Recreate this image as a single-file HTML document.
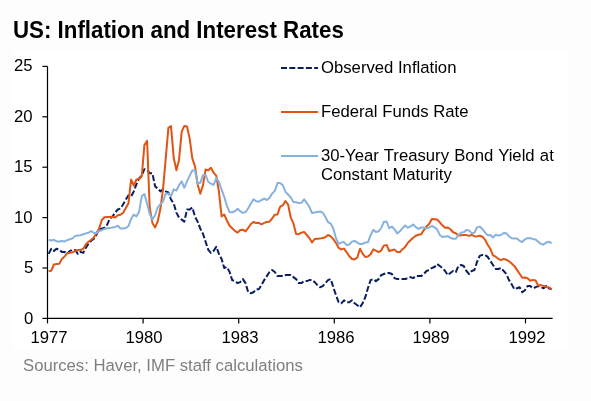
<!DOCTYPE html>
<html><head><meta charset="utf-8"><style>
html,body{margin:0;padding:0;}
body{width:591px;height:401px;background:#fdfdfd;position:relative;overflow:hidden;font-family:"Liberation Sans",sans-serif;}
.t{position:absolute;white-space:nowrap;line-height:1;color:#000;-webkit-font-smoothing:antialiased;will-change:transform;}
</style></head><body>
<div style="position:absolute;left:12px;top:50px;width:555px;height:299px;background:#fff"></div>
<div class="t" style="left:12.8px;top:18.6px;font-size:22.3px;font-weight:bold;transform:scaleY(1.04);transform-origin:0 0;">US: Inflation and Interest Rates</div>
<svg width="591" height="401" style="position:absolute;left:0;top:0">
<g stroke="#000" stroke-width="1.2" fill="none" shape-rendering="auto">
<path d="M47.5,66.4 V318.4 H552.6"/>
<path d="M42.4,318.4 H47.5"/>
<path d="M42.4,268.0 H47.5"/>
<path d="M42.4,217.6 H47.5"/>
<path d="M42.4,167.2 H47.5"/>
<path d="M42.4,116.8 H47.5"/>
<path d="M42.4,66.4 H47.5"/>
<path d="M47.5,318.4 V323.4"/>
<path d="M143.1,318.4 V323.4"/>
<path d="M238.7,318.4 V323.4"/>
<path d="M334.3,318.4 V323.4"/>
<path d="M429.9,318.4 V323.4"/>
<path d="M525.5,318.4 V323.4"/>
</g>
<path d="M48.6,253.9 L51.3,248.8 L53.9,250.9 L56.6,248.8 L59.3,249.9 L61.9,251.9 L64.6,251.9 L67.2,253.9 L69.9,250.9 L72.6,249.9 L75.2,249.9 L77.9,253.9 L80.6,251.9 L83.2,252.9 L85.9,247.8 L88.5,243.8 L91.2,240.8 L93.9,238.8 L96.5,234.7 L99.2,228.7 L101.8,228.7 L104.5,227.7 L107.2,224.7 L109.8,218.6 L112.5,216.6 L115.1,212.6 L117.8,209.5 L120.5,208.5 L123.1,204.5 L125.8,199.5 L128.5,195.4 L131.1,196.4 L133.8,191.4 L136.4,184.3 L139.1,178.3 L141.8,175.3 L144.4,169.2 L147.1,170.2 L149.7,173.2 L152.4,173.2 L155.1,186.4 L157.7,188.4 L160.4,191.4 L163.0,189.4 L165.7,191.4 L168.4,192.4 L171.0,199.5 L173.7,203.5 L176.4,212.6 L179.0,217.6 L181.7,219.6 L184.3,221.6 L187.0,209.5 L189.7,209.5 L192.3,207.5 L195.0,216.6 L197.6,221.6 L200.3,228.7 L203.0,233.7 L205.6,241.8 L208.3,249.9 L210.9,252.9 L213.6,250.9 L216.3,246.8 L218.9,253.9 L221.6,258.9 L224.2,268.0 L226.9,267.0 L229.6,272.0 L232.2,280.1 L234.9,281.1 L237.6,283.1 L240.2,282.1 L242.9,279.1 L245.5,283.1 L248.2,292.2 L250.9,293.2 L253.5,292.2 L256.2,289.2 L258.8,289.2 L261.5,285.1 L264.2,280.1 L266.8,276.1 L269.5,272.0 L272.1,270.0 L274.8,272.0 L277.5,276.1 L280.1,276.1 L282.8,276.1 L285.5,275.1 L288.1,275.1 L290.8,275.1 L293.4,277.1 L296.1,279.1 L298.8,283.1 L301.4,283.1 L304.1,281.1 L306.7,281.1 L309.4,280.1 L312.1,280.1 L314.7,282.1 L317.4,285.1 L320.0,287.2 L322.7,286.1 L325.4,283.1 L328.0,280.1 L330.7,279.1 L333.3,287.2 L336.0,295.2 L338.7,302.3 L341.3,303.3 L344.0,300.3 L346.7,302.3 L349.3,302.3 L352.0,300.3 L354.6,303.3 L357.3,305.3 L360.0,307.3 L362.6,303.3 L365.3,297.2 L367.9,288.2 L370.6,280.1 L373.3,279.1 L375.9,281.1 L378.6,279.1 L381.2,275.1 L383.9,274.0 L386.6,273.0 L389.2,273.0 L391.9,274.0 L394.6,278.1 L397.2,279.1 L399.9,279.1 L402.5,279.1 L405.2,279.1 L407.9,278.1 L410.5,277.1 L413.2,278.1 L415.8,276.1 L418.5,276.1 L421.2,276.1 L423.8,274.0 L426.5,271.0 L429.1,270.0 L431.8,268.0 L434.5,267.0 L437.1,264.0 L439.8,266.0 L442.4,268.0 L445.1,271.0 L447.8,275.1 L450.4,273.0 L453.1,271.0 L455.8,272.0 L458.4,266.0 L461.1,265.0 L463.7,266.0 L466.4,271.0 L469.1,274.0 L471.7,271.0 L474.4,270.0 L477.0,262.0 L479.7,255.9 L482.4,254.9 L485.0,254.9 L487.7,256.9 L490.3,260.9 L493.0,265.0 L495.7,269.0 L498.3,269.0 L501.0,268.0 L503.7,271.0 L506.3,274.0 L509.0,280.1 L511.6,284.1 L514.3,289.2 L517.0,288.2 L519.6,287.2 L522.3,292.2 L524.9,290.2 L527.6,286.1 L530.3,286.1 L532.9,288.2 L535.6,287.2 L538.2,286.1 L540.9,287.2 L543.6,288.2 L546.2,286.1 L548.9,288.2 L551.6,289.2" fill="none" stroke="#0a1e60" stroke-width="2" stroke-dasharray="6,2.3" stroke-linejoin="round"/>
<path d="M48.6,271.1 L51.3,270.7 L53.9,264.5 L56.6,264.1 L59.3,263.8 L61.9,258.9 L64.6,256.5 L67.2,253.2 L69.9,252.8 L72.6,252.3 L75.2,250.9 L77.9,250.1 L80.6,250.0 L83.2,248.9 L85.9,244.2 L88.5,241.8 L91.2,239.7 L93.9,237.4 L96.5,233.2 L99.2,228.1 L101.8,220.0 L104.5,217.3 L107.2,216.9 L109.8,217.0 L112.5,216.7 L115.1,217.5 L117.8,215.2 L120.5,214.7 L123.1,212.9 L125.8,208.1 L128.5,203.2 L131.1,179.6 L133.8,185.5 L136.4,179.5 L139.1,179.1 L141.8,176.0 L144.4,145.1 L147.1,140.9 L149.7,207.7 L152.4,222.9 L155.1,227.4 L157.7,221.5 L160.4,208.8 L163.0,189.3 L165.7,158.6 L168.4,127.9 L171.0,126.1 L173.7,157.8 L176.4,170.2 L179.0,159.9 L181.7,131.7 L184.3,125.9 L187.0,126.5 L189.7,138.8 L192.3,158.4 L195.0,166.4 L197.6,184.2 L200.3,193.7 L203.0,185.1 L205.6,169.4 L208.3,170.4 L210.9,167.8 L213.6,172.7 L216.3,175.8 L218.9,191.5 L221.6,216.4 L224.2,214.5 L226.9,220.5 L229.6,225.7 L232.2,228.2 L234.9,230.9 L237.6,232.6 L240.2,230.0 L242.9,229.7 L245.5,231.4 L248.2,227.9 L250.9,224.0 L253.5,222.0 L256.2,223.1 L258.8,222.8 L261.5,224.3 L264.2,222.9 L266.8,222.0 L269.5,221.7 L272.1,218.5 L274.8,214.7 L277.5,214.4 L280.1,206.9 L282.8,205.2 L285.5,201.1 L288.1,204.5 L290.8,217.7 L293.4,223.3 L296.1,233.9 L298.8,234.2 L301.4,232.7 L304.1,231.9 L306.7,235.0 L309.4,238.1 L312.1,242.5 L314.7,239.0 L317.4,238.8 L320.0,238.6 L322.7,237.9 L325.4,237.3 L328.0,235.0 L330.7,236.3 L333.3,239.2 L336.0,243.0 L338.7,247.9 L341.3,249.4 L344.0,248.6 L346.7,252.3 L349.3,256.2 L352.0,259.0 L354.6,259.4 L357.3,257.5 L360.0,248.7 L362.6,253.6 L365.3,256.9 L367.9,256.6 L370.6,254.2 L373.3,249.4 L375.9,250.6 L378.6,252.1 L381.2,250.6 L383.9,245.6 L386.6,244.9 L389.2,251.0 L391.9,250.2 L394.6,249.6 L397.2,252.1 L399.9,252.1 L402.5,249.2 L405.2,246.9 L407.9,242.7 L410.5,240.3 L413.2,237.7 L415.8,235.8 L418.5,234.7 L421.2,234.2 L423.8,230.1 L426.5,226.5 L429.1,224.1 L431.8,219.1 L434.5,219.2 L437.1,219.5 L439.8,222.3 L442.4,225.3 L445.1,227.8 L447.8,227.5 L450.4,229.3 L453.1,232.2 L455.8,233.2 L458.4,235.4 L461.1,235.3 L463.7,234.9 L466.4,235.1 L469.1,235.9 L471.7,234.8 L474.4,236.2 L477.0,236.4 L479.7,235.7 L482.4,236.7 L485.0,239.7 L487.7,244.7 L490.3,248.7 L493.0,255.4 L495.7,256.7 L498.3,258.8 L501.0,260.1 L503.7,258.9 L506.3,259.7 L509.0,261.3 L511.6,263.5 L514.3,265.9 L517.0,269.9 L519.6,273.7 L522.3,277.8 L524.9,277.5 L527.6,278.3 L530.3,280.8 L532.9,279.9 L535.6,280.5 L538.2,285.6 L540.9,285.1 L543.6,285.9 L546.2,287.2 L548.9,287.3 L551.6,289.0" fill="none" stroke="#e05414" stroke-width="2" stroke-linejoin="round"/>
<path d="M48.6,239.8 L51.3,240.5 L53.9,239.8 L56.6,241.4 L59.3,241.4 L61.9,241.0 L64.6,241.4 L67.2,240.1 L69.9,239.3 L72.6,238.4 L75.2,235.9 L77.9,235.5 L80.6,235.2 L83.2,234.3 L85.9,233.4 L88.5,232.7 L91.2,231.2 L93.9,233.0 L96.5,233.0 L99.2,231.0 L101.8,230.2 L104.5,228.9 L107.2,228.3 L109.8,228.1 L112.5,227.4 L115.1,226.9 L117.8,225.8 L120.5,228.5 L123.1,228.5 L125.8,228.0 L128.5,226.0 L131.1,219.1 L133.8,214.6 L136.4,216.4 L139.1,211.6 L141.8,196.1 L144.4,194.0 L147.1,203.5 L149.7,214.0 L152.4,219.5 L155.1,215.2 L157.7,207.5 L160.4,204.1 L163.0,201.6 L165.7,193.7 L168.4,193.4 L171.0,196.0 L173.7,189.4 L176.4,190.5 L179.0,185.3 L181.7,181.3 L184.3,187.8 L187.0,181.4 L189.7,175.6 L192.3,170.5 L195.0,170.4 L197.6,183.8 L200.3,182.8 L203.0,175.1 L205.6,175.1 L208.3,182.0 L210.9,183.6 L213.6,184.9 L216.3,178.1 L218.9,181.8 L221.6,189.7 L224.2,196.7 L226.9,205.8 L229.6,212.2 L232.2,212.2 L234.9,211.2 L237.6,208.7 L240.2,211.2 L242.9,212.8 L245.5,212.3 L248.2,208.2 L250.9,203.5 L253.5,199.3 L256.2,201.2 L258.8,201.7 L261.5,200.0 L264.2,198.6 L266.8,200.0 L269.5,197.9 L272.1,193.6 L274.8,190.9 L277.5,183.0 L280.1,182.9 L282.8,185.2 L285.5,192.0 L288.1,194.5 L290.8,197.6 L293.4,201.9 L296.1,202.3 L298.8,203.0 L301.4,202.8 L304.1,199.4 L306.7,202.8 L309.4,207.0 L312.1,213.1 L314.7,212.6 L317.4,212.0 L320.0,211.5 L322.7,212.6 L325.4,217.0 L328.0,222.2 L330.7,223.6 L333.3,228.4 L336.0,238.2 L338.7,243.9 L341.3,242.6 L344.0,242.1 L346.7,245.1 L349.3,244.5 L352.0,241.6 L354.6,240.8 L357.3,242.6 L360.0,244.1 L362.6,243.9 L365.3,242.4 L367.9,242.3 L370.6,235.2 L373.3,229.9 L375.9,232.0 L378.6,231.3 L381.2,228.0 L383.9,221.7 L386.6,221.5 L389.2,228.2 L391.9,226.5 L394.6,229.4 L397.2,233.4 L399.9,231.4 L402.5,228.2 L405.2,225.4 L407.9,227.7 L410.5,226.3 L413.2,224.5 L415.8,227.1 L418.5,228.8 L421.2,227.5 L423.8,227.6 L426.5,228.4 L429.1,227.6 L431.8,226.0 L434.5,227.4 L437.1,229.4 L439.8,235.0 L442.4,237.0 L445.1,236.6 L447.8,236.2 L450.4,237.8 L453.1,238.8 L455.8,238.8 L458.4,235.1 L461.1,232.7 L463.7,232.1 L466.4,230.1 L469.1,230.4 L471.7,233.1 L474.4,232.7 L477.0,227.4 L479.7,226.6 L482.4,229.1 L485.0,232.3 L487.7,235.3 L490.3,235.0 L493.0,237.5 L495.7,234.8 L498.3,235.6 L501.0,235.0 L503.7,233.0 L506.3,233.2 L509.0,236.3 L511.6,238.3 L514.3,238.5 L517.0,238.6 L519.6,240.8 L522.3,242.0 L524.9,239.3 L527.6,238.1 L530.3,238.2 L532.9,238.9 L535.6,239.4 L538.2,241.8 L540.9,243.9 L543.6,244.4 L546.2,242.5 L548.9,241.7 L551.6,243.4" fill="none" stroke="#88b2de" stroke-width="2" stroke-linejoin="round"/>
<path d="M281,67.9 H318" stroke="#0a1e60" stroke-width="2" stroke-dasharray="6,2.3" fill="none"/>
<path d="M281,112 H318" stroke="#e05414" stroke-width="2" fill="none"/>
<path d="M281,156 H318" stroke="#88b2de" stroke-width="2" fill="none"/>
</svg>
<div class="t" style="right:558.0px;top:310.8px;font-size:16.7px;">0</div>
<div class="t" style="right:558.0px;top:260.4px;font-size:16.7px;">5</div>
<div class="t" style="right:558.0px;top:210.0px;font-size:16.7px;">10</div>
<div class="t" style="right:558.0px;top:159.0px;font-size:16.7px;">15</div>
<div class="t" style="right:558.0px;top:108.6px;font-size:16.7px;">20</div>
<div class="t" style="right:558.0px;top:58.2px;font-size:16.7px;">25</div>
<div class="t" style="left:-1.3px;width:100px;text-align:center;top:330.0px;font-size:16.7px;">1977</div>
<div class="t" style="left:94.3px;width:100px;text-align:center;top:330.0px;font-size:16.7px;">1980</div>
<div class="t" style="left:189.9px;width:100px;text-align:center;top:330.0px;font-size:16.7px;">1983</div>
<div class="t" style="left:285.5px;width:100px;text-align:center;top:330.0px;font-size:16.7px;">1986</div>
<div class="t" style="left:381.1px;width:100px;text-align:center;top:330.0px;font-size:16.7px;">1989</div>
<div class="t" style="left:476.7px;width:100px;text-align:center;top:330.0px;font-size:16.7px;">1992</div>
<div class="t" style="left:320.5px;top:59.6px;font-size:16.7px;">Observed Inflation</div>
<div class="t" style="left:320.5px;top:103.6px;font-size:16.7px;">Federal Funds Rate</div>
<div class="t" style="left:320.5px;top:146.0px;font-size:16.7px;line-height:19.2px;"><span style="word-spacing:0.6px">30-Year Treasury Bond Yield at</span><br>Constant Maturity</div>
<div class="t" style="left:22.8px;top:357.9px;font-size:16.7px;color:#7f7f7f;">Sources: Haver, IMF staff calculations</div>
</body></html>
